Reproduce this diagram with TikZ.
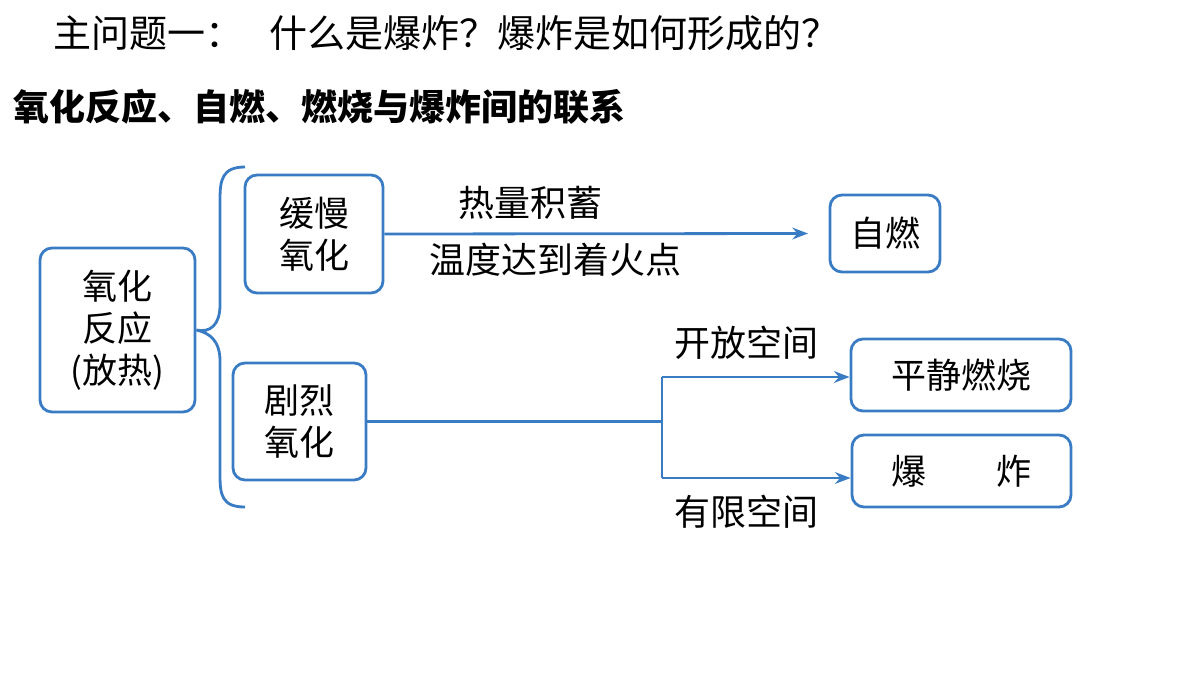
\documentclass[tikz,border=0pt]{standalone}
\usepackage{fontspec}
\setmainfont{Noto Sans CJK SC}
\usetikzlibrary{arrows.meta,positioning}
\definecolor{lineblue}{HTML}{3A7CC4}

\begin{document}
\begin{tikzpicture}[x=1pt,y=1pt,>=Stealth,
  box/.style={draw=lineblue,line width=2.8pt,rounded corners=12pt,align=center,
    inner sep=0pt,font=\fontsize{35}{42}\selectfont},
  lbl/.style={font=\fontsize{36}{42}\selectfont},
  conn/.style={draw=lineblue,line width=2.8pt}]
  \useasboundingbox (0,0) rectangle (1200,-675);

  % titles
  \node[anchor=west,font=\fontsize{38}{44}\selectfont] (title) at (50,-33) {主问题一：\ \ \ 什么是爆炸？爆炸是如何形成的？};
  \node[anchor=west,font=\fontsize{36}{40}\selectfont\bfseries] (sub) at (10,-107) {氧化反应、自燃、燃烧与爆炸间的联系};

  % boxes
  \node[box,minimum width=155pt,minimum height=164pt] (ox) at (117.5,-330) {氧化\\反应\\(放热)};
  \node[box,minimum width=138pt,minimum height=118pt] (slow) at (314,-234) {缓慢\\氧化};
  \node[box,minimum width=133pt,minimum height=117pt] (fast) at (299.5,-421.5) {剧烈\\氧化};
  \node[box,minimum width=110pt,minimum height=77pt] (self) at (885,-233.5) {自燃};
  \node[box,minimum width=220pt,minimum height=72pt] (calm) at (961,-375) {平静燃烧};
  \node[box,minimum width=219pt,minimum height=72pt] (expl) at (961.5,-471) {爆\hspace{2em}炸};

  % brace
  \draw[conn] (245,-167) .. controls (222,-167) and (220,-180) .. (220,-200) -- (220,-305)
    .. controls (220,-325) and (210,-333) .. (ox.east)
    .. controls (210,-333) and (220,-341) .. (220,-361) -- (220,-475)
    .. controls (220,-495) and (222,-507) .. (245,-507);

  % slow branch
  \coordinate (selfin) at (808,-233.5);
  \draw[conn,->] (slow.east) -- (selfin);
  \node[lbl] (heat) at (530,-203) {热量积蓄};
  \node[lbl] (temp) at (555,-260) {温度达到着火点};

  % fast branch
  \coordinate (fork) at (662,-421.5);
  \coordinate (forkup) at (662,-377);
  \coordinate (forkdn) at (662,-478);
  \draw[conn] (fast.east) -- (fork);
  \draw[conn] (forkup) -- (forkdn);
  \draw[conn,->] (forkup) -- (calm.west|-forkup);
  \draw[conn,->] (forkdn) -- (expl.west|-forkdn);
  \node[lbl] (open) at (746,-343) {开放空间};
  \node[lbl] (closed) at (746,-512) {有限空间};
\end{tikzpicture}
\end{document}
